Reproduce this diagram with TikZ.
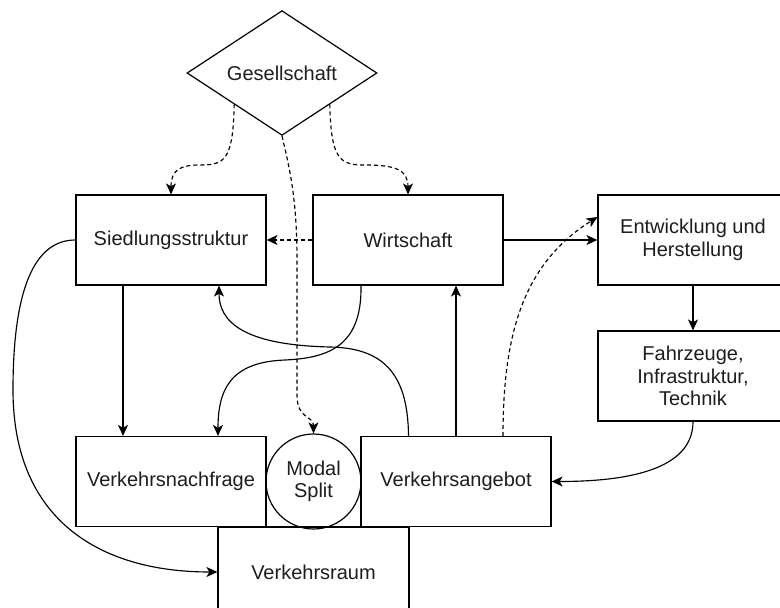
\documentclass[tikz,border=0pt]{standalone}
\usepackage{fontspec}
\setmainfont{Liberation Sans}
\usetikzlibrary{shapes.geometric,arrows.meta}
\definecolor{txt}{HTML}{1E1E1E}
\tikzset{
  lbl/.style={font=\fontsize{20}{22.5}\selectfont, text=txt, align=center},
  box/.style={lbl, draw, line width=1.2pt, minimum width=190pt, minimum height=90pt, inner sep=0pt},
  conn/.style={line width=1.15pt, -{Stealth[length=11pt,width=10pt,inset=3pt]}},
  dconn/.style={conn, dash pattern=on 4pt off 3pt},
}
\begin{document}
\begin{tikzpicture}[x=1pt,y=-1pt]
\useasboundingbox (0,0) rectangle (780,608);
\clip (0,0) rectangle (780,608);
\fill[white] (0,0) rectangle (780,608);

\node[lbl, diamond, draw, line width=1.2pt, minimum width=190pt, minimum height=124pt, inner sep=0pt] (soc) at (282,73) {Gesellschaft};
\node[box] (sied) at (171,240) {Siedlungsstruktur};
\node[box] (wirt) at (408,240) {Wirtschaft};
\node[box] (entw) at (693,240) {Entwicklung und\\Herstellung};
\node[box] (fahr) at (693,376) {Fahrzeuge,\\Infrastruktur,\\Technik};
\node[box] (nach) at (171,481.5) {Verkehrsnachfrage};
\node[box] (ang) at (456,481.5) {Verkehrsangebot};
\node[lbl, circle, draw, line width=1.2pt, minimum size=95pt, inner sep=0pt] (circ) at (313.5,481.5) {Modal\\Split};
\node[box, minimum width=191pt] (raum) at (313.5,572) {Verkehrsraum};

% dashed from Gesellschaft
\draw[dconn] (soc.south west) .. controls (233,160) and (225,165) .. (200,165)
  .. controls (180,165) and (171,170) .. (sied.north);
\draw[dconn] (soc.south east) .. controls (331,160) and (340,165) .. (365,165)
  .. controls (396,165) and (408,170) .. (wirt.north);
\draw[dconn] (soc.south) .. controls (290,170) and (297,200) .. (297,260)
  -- (297,395) .. controls (297,420) and (313.5,415) .. (circ.north);

\draw[dconn] (wirt.west) -- (sied.east);
\draw[conn] (wirt.east) -- (entw.west);

\draw[conn] ([xshift=-48pt]sied.south) -- ([xshift=-48pt]nach.north);

\draw[conn] ([xshift=-47pt]wirt.south) .. controls (362,345) and (330,358) .. (285,360)
  .. controls (230,362) and (218,390) .. ([xshift=47pt]nach.north);
\draw[conn] ([xshift=-47.5pt]ang.north) .. controls (408,370) and (380,348) .. (330,347)
  .. controls (240,345) and (219,320) .. ([xshift=48pt]sied.south);

\draw[conn] (ang.north) -- (ang.north |- wirt.south);
\draw[dconn] ([xshift=47pt]ang.north) .. controls (503,330) and (525,263) .. ([yshift=23pt]entw.west);

\draw[conn] (entw.south) -- (fahr.north);
\draw[conn] (fahr.south) .. controls (693,465) and (640,481.5) .. (ang.east);

\draw[conn] (sied.west) .. controls (30,240) and (13,300) .. (13,390)
  .. controls (13,520) and (100,572) .. (raum.west);
\end{tikzpicture}
\end{document}
